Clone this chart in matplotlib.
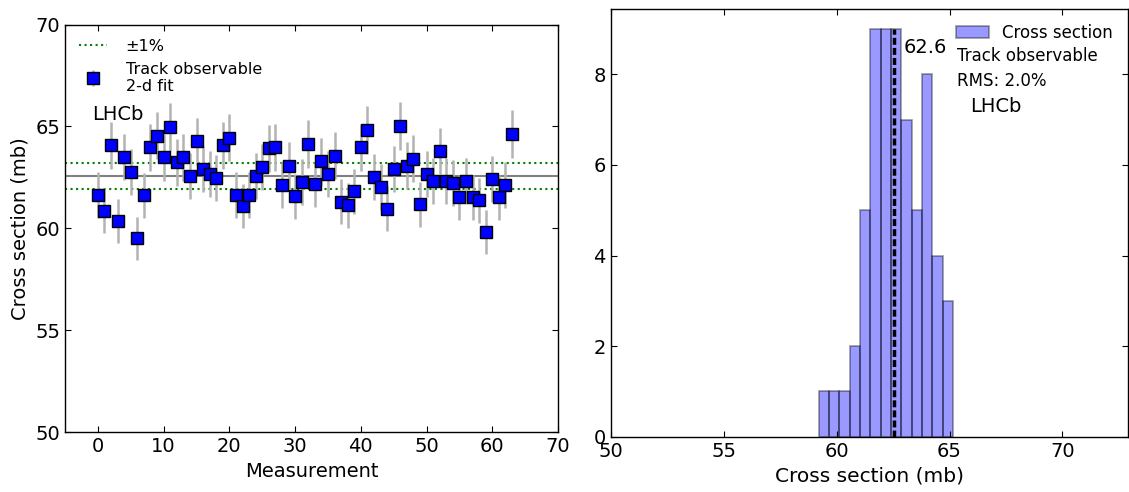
#libraries
import numpy as np
import matplotlib
matplotlib.use('Agg')
import matplotlib.pyplot as plt

# measured cross sections (mb), one per measurement index
xs = [61.64, 60.87, 64.08, 60.36, 63.50, 62.77, 59.51, 61.62, 63.98, 64.55,
      63.49, 64.97, 63.24, 63.49, 62.57, 64.27, 62.91, 62.67, 62.49, 64.08,
      64.45, 61.64, 61.10, 61.64, 62.55, 63.01, 63.94, 63.98, 62.13, 63.08,
      61.57, 62.26, 64.14, 62.16, 63.29, 62.68, 63.57, 61.31, 61.13, 61.82,
      63.98, 64.84, 62.51, 62.02, 60.97, 62.91, 65.01, 63.08, 63.42, 61.18,
      62.68, 62.31, 63.80, 62.31, 62.24, 61.52, 62.32, 61.52, 61.39, 59.82,
      62.44, 61.52, 62.13, 64.62]
rel_err = 0.018          # relative uncertainty per point
fit_mean = 62.56         # 2-d fit result
band = 0.01              # +-1% band
rms_label = 'RMS: 2.0%'

# histogram of cross sections
hist_counts = [1, 1, 1, 2, 5, 9, 9, 9, 7, 5, 8, 4, 3]
hist_lo, hist_hi = 59.2, 65.16

plt.rcParams.update({
    'font.family': 'DejaVu Sans',
    'xtick.direction': 'in', 'ytick.direction': 'in',
    'xtick.top': True, 'ytick.right': True,
    'xtick.major.size': 4, 'ytick.major.size': 4,
    'xtick.labelsize': 14, 'ytick.labelsize': 14,
    'axes.labelsize': 14, 'axes.linewidth': 1.0,
    'legend.handletextpad': 0.8, 'legend.borderpad': 0.4,
    'legend.borderaxespad': 0.5, 'legend.labelspacing': 0.5,
})

fig = plt.figure(figsize=(11.29, 4.92), dpi=100)
ax1 = fig.add_axes([0.0576, 0.1213, 0.4367, 0.8289])
ax2 = fig.add_axes([0.5409, 0.1124, 0.4582, 0.8699])

# left: measurements
idx = np.arange(len(xs))
vals = np.array(xs)
ax1.axhline(fit_mean, color='0.5', lw=1.5, zorder=1)
ax1.axhline(fit_mean * (1 + band), color='g', ls=':', lw=1.5, label='±1%', zorder=1)
ax1.axhline(fit_mean * (1 - band), color='g', ls=':', lw=1.5, zorder=1)
ax1.errorbar(idx, vals, yerr=vals * rel_err, fmt='s', color='b', ms=8,
             mec='k', mew=1, ecolor='0.7', elinewidth=1.8, capsize=0,
             label='Track observable\n2-d fit', zorder=3)
ax1.set_xlim(-5, 70)
ax1.set_ylim(50, 70)
ax1.set_xticks([0, 10, 20, 30, 40, 50, 60, 70])
ax1.set_yticks([50, 55, 60, 65, 70])
ax1.set_xlabel('Measurement')
ax1.set_ylabel('Cross section (mb)')
ax1.legend(loc='upper left', frameon=False, fontsize=11.5, numpoints=1,
           handlelength=1.7, handletextpad=1.2)
ax1.text(0.055, 0.766, 'LHCb', transform=ax1.transAxes, fontsize=14,
         va='baseline')

# right: histogram
edges = np.linspace(hist_lo, hist_hi, len(hist_counts) + 1)
ax2.hist(edges[:-1], bins=edges, weights=hist_counts, color='b', alpha=0.4,
         edgecolor='k', lw=1.2, label='Cross section')
ax2.vlines(fit_mean, 0, max(hist_counts), color='k', ls=(0, (2, 0.9)), lw=2.5)
ax2.text(fit_mean + 0.42, 8.6, f'{fit_mean:.1f}', fontsize=14, va='center')
ax2.set_xlim(50, 72.9)
ax2.set_ylim(0, max(hist_counts) * 1.05)
ax2.set_xticks([50, 55, 60, 65, 70])
ax2.set_yticks([0, 2, 4, 6, 8])
ax2.set_xlabel('Cross section (mb)', fontsize=14.5)
ax2.legend(loc='upper right', frameon=False, fontsize=12, handlelength=2.0)
ax2.text(0.669, 0.8895, 'Track observable', transform=ax2.transAxes,
         fontsize=12, va='center')
ax2.text(0.669, 0.831, rms_label, transform=ax2.transAxes, fontsize=12,
         va='center')
ax2.text(0.6946, 0.771, 'LHCb', transform=ax2.transAxes, fontsize=14,
         va='center')

fig.savefig('out.png', dpi=100)
